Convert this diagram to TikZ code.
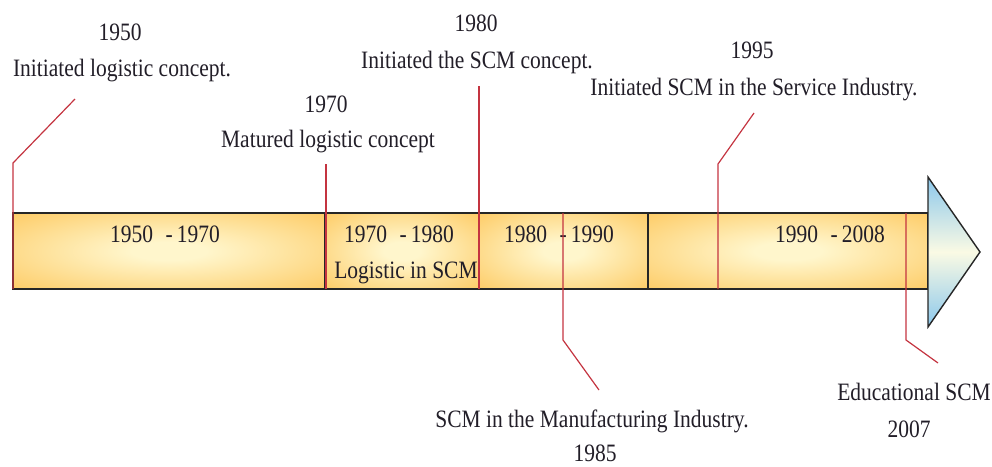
\documentclass[tikz,border=0pt]{standalone}
\usepackage{fontspec}
\setmainfont[FakeStretch=0.86]{Liberation Serif}
\definecolor{baredge}{RGB}{253,192,74}
\definecolor{barmid}{RGB}{255,246,204}
\definecolor{arrowblue}{RGB}{140,200,236}
\definecolor{arrowcream}{RGB}{250,250,228}
\definecolor{markred}{RGB}{196,52,64}
\definecolor{ink}{RGB}{34,30,40}
\pgfdeclareradialshading{barglow}{\pgfpoint{0bp}{0bp}}{%
  color(0bp)=(barmid); color(6bp)=(barmid); color(44bp)=(baredge); color(50bp)=(baredge)}
\begin{document}
\begin{tikzpicture}[x=1pt,y=-1pt,
  lbl/.style={font=\fontsize{25}{28}\selectfont, text=ink, inner sep=0pt, anchor=base},
  barline/.style={draw=black!85, line width=1.4pt},
  marker/.style={draw=markred, line width=1.2pt},
  segment/.style={shading=barglow}]
\useasboundingbox (0,0) rectangle (992,466);

% timeline bar, one glowing segment per period
\shade[segment] (13,213) rectangle (325,289);
\shade[segment] (325,213) rectangle (479,289);
\shade[segment] (479,213) rectangle (648,289);
\shade[segment] (648,213) rectangle (928,289);
\draw[barline] (13,213) rectangle (928,289);
\draw[barline] (325,213) -- (325,289);
\draw[barline] (648,213) -- (648,289);

% arrow head
\path[draw=black!85, line width=1.4pt, line join=miter,
      top color=arrowblue, bottom color=arrowblue, middle color=arrowcream]
  (928,177) -- (980,252) -- (928,327) -- cycle;

% period labels inside the bar
\node[lbl] (p1) at (165,242) {1950\enspace-\,1970};
\node[lbl] (p2) at (399,242) {1970\enspace-\,1980};
\node[lbl] (p2b) at (406,278) {Logistic in SCM};
\node[lbl] (p3) at (559,242) {1980\enspace-\,1990};
\node[lbl] (p4) at (830,242) {1990\enspace-\,2008};

% event labels
\node[lbl] (y1950) at (120,40) {1950};
\node[lbl] (e1950) at (122,76) {Initiated logistic concept.};
\node[lbl] (y1970) at (326,112) {1970};
\node[lbl] (e1970) at (328,147) {Matured logistic concept};
\node[lbl] (y1980) at (476,31) {1980};
\node[lbl] (e1980) at (477,68) {Initiated the SCM concept.};
\node[lbl] (y1995) at (752,58) {1995};
\node[lbl] (e1995) at (754,95) {Initiated SCM in the Service Industry.};
\node[lbl] (e1985) at (592,427) {SCM in the Manufacturing Industry.};
\node[lbl] (y1985) at (595,461) {1985};
\node[lbl] (e2007) at (914,400) {Educational SCM};
\node[lbl] (y2007) at (909,437) {2007};

% marker lines
\coordinate (a1950) at (13,289);  \coordinate (k1950) at (13,163);  \coordinate (t1950) at (75,99);
\coordinate (a1970) at (326,289); \coordinate (t1970) at (326,164);
\coordinate (a1980) at (479,289); \coordinate (t1980) at (479,86);
\coordinate (a1995) at (718,289); \coordinate (k1995) at (718,164); \coordinate (t1995) at (754,113);
\coordinate (a1985) at (563,213); \coordinate (k1985) at (563,340); \coordinate (t1985) at (599,390);
\coordinate (a2007) at (906,213); \coordinate (k2007) at (906,340); \coordinate (t2007) at (938,363);

\draw[marker] (a1950) -- (k1950) -- (t1950);
\draw[marker] (a1970) -- (t1970);
\draw[marker] (a1980) -- (t1980);
\draw[marker] (a1995) -- (k1995) -- (t1995);
\draw[marker] (a1985) -- (k1985) -- (t1985);
\draw[marker] (a2007) -- (k2007) -- (t2007);
\end{tikzpicture}
\end{document}
